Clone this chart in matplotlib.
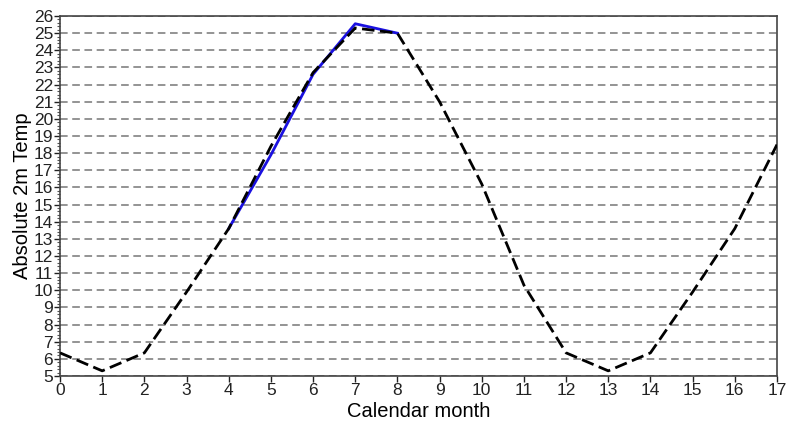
import matplotlib
matplotlib.use("Agg")
import matplotlib.pyplot as plt
from matplotlib.ticker import MultipleLocator

plt.rcParams['font.family'] = ['Liberation Sans', 'DejaVu Sans']

# Climatology, repeated over 18 calendar months
months = list(range(18))
climatology = [6.35, 5.3, 6.35, 9.9, 13.6, 18.4, 22.7, 25.3, 25.0, 21.0,
               16.2, 10.3, 6.35, 5.3, 6.35, 9.9, 13.6, 18.5]

# Current-year values
obs_months = [4, 5, 6, 7, 8]
observed = [13.6, 17.9, 22.6, 25.55, 25.0]

yticks = list(range(5, 27))
xticks = list(range(0, 18))

fig = plt.figure(figsize=(7.9, 4.22), dpi=100)
ax = fig.add_axes([0.076, 0.109, 0.9075, 0.853])

for y in yticks:
    ax.axhline(y, color='#777777', lw=1.1, ls=(0, (5, 3)), zorder=1)

ax.plot(obs_months, observed, color='#1a10e0', lw=2.0, zorder=3)
ax.plot(months, climatology, color='black', lw=2.0, ls=(0, (4.5, 2)), zorder=4)

ax.set_xlim(0, 17)
ax.set_ylim(5, 26)
ax.set_xticks(xticks)
ax.set_yticks(yticks)
ax.yaxis.set_minor_locator(MultipleLocator(0.2))
ax.tick_params(axis='both', which='major', direction='out', length=4,
               width=1, labelsize=12.5, pad=1, colors='#222222')
ax.tick_params(axis='y', which='minor', direction='out', length=2,
               width=0.8, colors='#555555')

for s in ax.spines.values():
    s.set_color('#444444')
    s.set_linewidth(1.2)

ax.set_xlabel('Calendar month', fontsize=14.5, labelpad=3)
ax.set_ylabel('Absolute 2m Temp', fontsize=14.5, labelpad=1)

fig.savefig('out.png', dpi=100)
